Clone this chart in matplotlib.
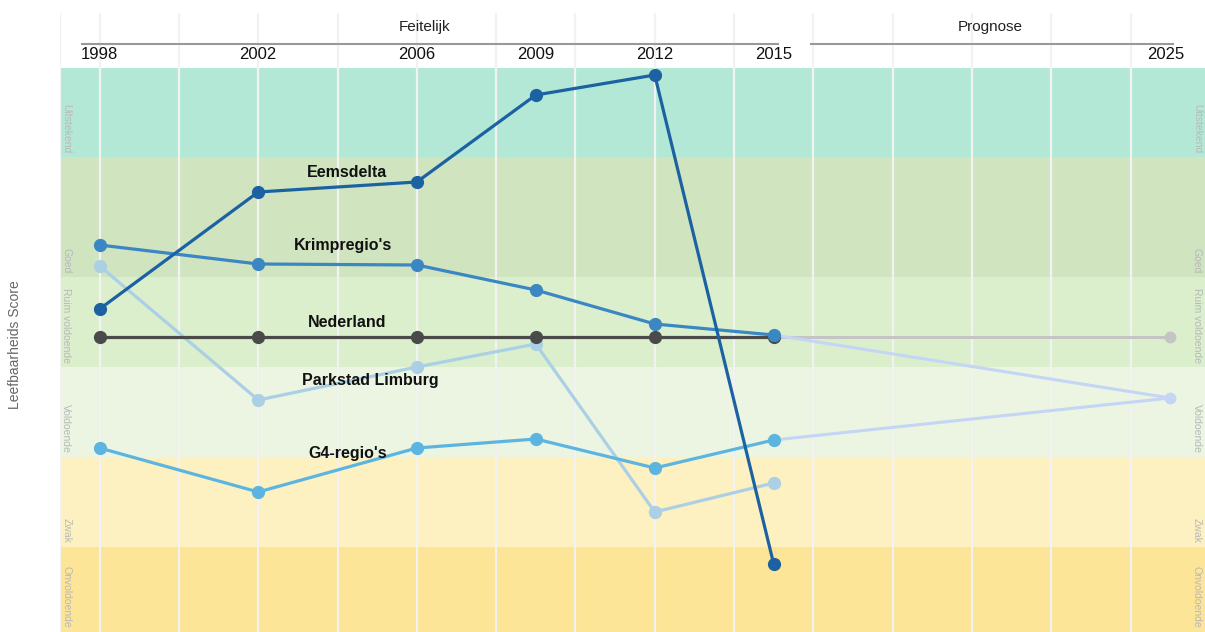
import matplotlib
matplotlib.use("Agg")
import matplotlib.pyplot as plt

plt.rcParams['font.family'] = ['Liberation Sans', 'DejaVu Sans']

# ---------------- data ----------------
years = [1998, 2002, 2006, 2009, 2012, 2015]
eemsdelta = [32.3, 44.0, 45.0, 53.7, 55.7, 6.8]
krimpregios = [38.7, 36.8, 36.7, 34.2, 30.8, 29.7]
nederland = [29.5, 29.5, 29.5, 29.5, 29.5, 29.5]
parkstad = [36.6, 23.2, 26.5, 28.8, 12.0, 14.9]
g4regios = [18.4, 14.0, 18.4, 19.3, 16.4, 19.2]

prognose_year = 2025
prognose_nederland = 29.5
prognose_regio = 23.4

band_names = ["Onvoldoende", "Zwak", "Voldoende", "Ruim voldoende", "Goed", "Uitstekend"]
band_edges = [0, 8.5, 17.5, 26.5, 35.5, 47.5, 56.4]
band_colors = ["#fde597", "#fdf0c1", "#ebf5e2", "#dbefcd", "#cfe4bf", "#b3e8d7"]

year_labels = ["1998", "2002", "2006", "2009", "2012", "2015", "2025"]
label_years = [1998, 2002, 2006, 2009, 2012, 2015, 2025]

# ---------------- figure ----------------
fig = plt.figure(figsize=(12.05, 6.32), dpi=100)
ax = fig.add_axes([60 / 1205, 0, 1 - 60 / 1205, 1])
x0 = 1997
xpx = 39.65
ax.set_xlim(x0, x0 + (1205 - 60) / xpx)
ax.set_ylim(0, 63.2)
ax.axis('off')

# bands
for i, name in enumerate(band_names):
    lo, hi = band_edges[i], band_edges[i + 1]
    ax.axhspan(lo, hi, color=band_colors[i], zorder=0, lw=0)
    for xl in (x0 + 0.16, x0 + (1197 - 60) / xpx):
        ax.text(xl, lo + 0.4, name, rotation=270, ha='center', va='bottom',
                fontsize=7.5, color='#b8b8b8', zorder=1)

# vertical gridlines
for gx in [1997] + list(range(1998, 2025, 2)):
    ax.plot([gx, gx], [0, 61.9], color='#f2f2f2', lw=1.6, zorder=1,
            solid_capstyle='butt')

# header lines and titles
ax.plot([1997.55, 2015.1], [58.8, 58.8], color='#999999', lw=1.5, zorder=2)
ax.plot([2015.93, 2025.07], [58.8, 58.8], color='#999999', lw=1.5, zorder=2)
ax.text(2006.2, 60.5, "Feitelijk", ha='center', va='center', fontsize=11, color='#222222')
ax.text(2020.47, 60.5, "Prognose", ha='center', va='center', fontsize=11, color='#222222')
for yv, yl in zip(label_years, year_labels):
    ax.text(yv - (0.1 if yv == 2025 else 0), 57.8, yl, ha='center', va='center',
            fontsize=12, color='#111111')

# prognose lines
ax.plot([years[-1], prognose_year], [nederland[-1], prognose_nederland],
        color='#c4c4c4', lw=2.2, zorder=3)
ax.plot([prognose_year], [prognose_nederland], 'o', color='#c4c4c4', ms=7.5, zorder=3)
ax.plot([years[-1], prognose_year], [krimpregios[-1], prognose_regio],
        color='#c5d5f5', lw=2.2, zorder=3)
ax.plot([years[-1], prognose_year], [g4regios[-1], prognose_regio],
        color='#c5d5f5', lw=2.2, zorder=3)
ax.plot([prognose_year], [prognose_regio], 'o', color='#c5d5f5', ms=7.5, zorder=3)

series = [
    (parkstad, '#abd0e5', "Parkstad Limburg", (2004.83, 25.1)),
    (g4regios, '#5cb5e0', "G4-regio's", (2004.25, 17.9)),
    (nederland, '#4a4a4a', "Nederland", (2004.23, 31.0)),
    (krimpregios, '#3b87c3', "Krimpregio's", (2004.13, 38.7)),
    (eemsdelta, '#1c62a3', "Eemsdelta", (2004.25, 46.0)),
]
for z, (vals, col, name, pos) in enumerate(series):
    ax.plot(years, vals, '-o', color=col, lw=2.3, ms=8.5, zorder=4 + z)
    ax.text(pos[0], pos[1], name, ha='center', va='center', fontsize=11.5,
            fontweight='bold', color='#111111', zorder=12)

fig.text(15 / 1205, 1 - 345 / 632, "Leefbaarheids Score", rotation=90,
         ha='center', va='center', fontsize=10, color='#666666')

fig.savefig("out.png", dpi=100)
